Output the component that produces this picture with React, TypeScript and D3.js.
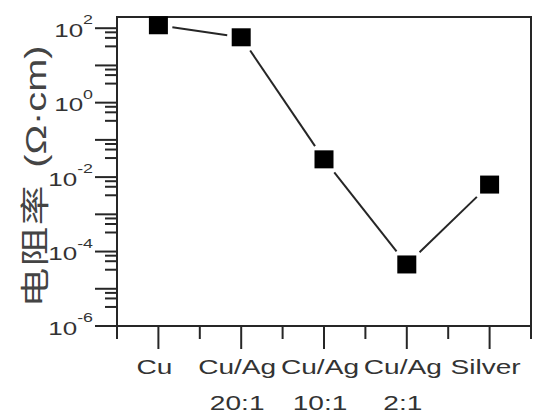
import React from "react";
import * as d3 from "d3";

const categories: string[][] = [["Cu"], ["Cu/Ag", "20:1"], ["Cu/Ag", "10:1"], ["Cu/Ag", "2:1"], ["Silver"]];
const resistivity: number[] = [120, 57, 0.03, 4.5e-5, 0.0063];
const labelExponents: number[] = [-6, -4, -2, 0, 2];
const decadeExponents: number[] = [-6, -5, -4, -3, -2, -1, 0, 1, 2];
const minorMultiples: number[] = [3.25, 5.5, 7.75];
const yTitleMain = "电阻率";
const yTitleUnit = "(Ω·cm)";

const W = 538;
const H = 418;
const left = 117;
const right = 531;
const top = 17;
const bottom = 326;
const SX = 1.37;
const ink = "#262626";
const textInk = "#333";
const font = "'Liberation Sans', Arial, 'Noto Sans CJK SC', sans-serif";

export default function App() {
  const x = d3.scaleLinear().domain([-0.5, categories.length - 0.5]).range([left, right]);
  const y = d3.scaleLog().domain([1e-6, 200]).range([bottom, top]);

  const pts = resistivity.map((v, i) => [x(i), y(v)] as [number, number]);
  const half = 9.5;
  const gap = 4.5;
  const segs = pts.slice(1).map((q, i) => {
    const p = pts[i];
    const dx = q[0] - p[0];
    const dy = q[1] - p[1];
    const len = Math.hypot(dx, dy);
    const ux = dx / len;
    const uy = dy / len;
    const trim = half / Math.max(Math.abs(ux), Math.abs(uy)) + gap;
    return [p[0] + ux * trim, p[1] + uy * trim, q[0] - ux * trim, q[1] - uy * trim];
  });

  const minorY: number[] = [];
  decadeExponents.forEach((e) => {
    minorMultiples.forEach((m) => {
      const v = m * Math.pow(10, e);
      if (v < 200) minorY.push(v);
    });
  });
  const xMajor = categories.map((_, i) => i);
  const xMinor = d3.range(-0.5, categories.length, 1);

  return (
    <svg width={W} height={H} style={{ position: "absolute", left: 0, top: 0, background: "#fff" }}>
      <rect x={0} y={0} width={W} height={H} fill="#fff" />
      {decadeExponents.map((e) => (
        <line key={"ym" + e} x1={left - 22} x2={left} y1={y(Math.pow(10, e))} y2={y(Math.pow(10, e))} stroke={ink} strokeWidth={2} />
      ))}
      {minorY.map((v, i) => (
        <line key={"yn" + i} x1={left - 12} x2={left} y1={y(v)} y2={y(v)} stroke={ink} strokeWidth={2} />
      ))}
      {xMajor.map((v) => (
        <line key={"xm" + v} x1={x(v)} x2={x(v)} y1={bottom} y2={bottom + 23} stroke={ink} strokeWidth={2} />
      ))}
      {xMinor.map((v, i) => (
        <line key={"xn" + i} x1={x(v)} x2={x(v)} y1={bottom} y2={bottom + 13} stroke={ink} strokeWidth={2} />
      ))}
      <rect x={left} y={top} width={right - left} height={bottom - top} fill="none" stroke={ink} strokeWidth={2} />
      {labelExponents.map((e) => (
        <g key={"yl" + e} transform={`translate(${left - 24},${y(Math.pow(10, e)) + 8.5}) scale(${SX},1)`}>
          <text textAnchor="end" fontFamily={font} fontSize={19} fill={textInk}>
            10
            <tspan fontSize={13} dy={-12.5}>{String(e)}</tspan>
          </text>
        </g>
      ))}
      {categories.map((lines, i) =>
        lines.map((ln, j) => (
          <g key={"xl" + i + "_" + j} transform={`translate(${x(i) - 4},${374 + j * 36}) scale(${SX},1)`}>
            <text textAnchor="middle" fontFamily={font} fontSize={20.5} fill={textInk}>
              {ln}
            </text>
          </g>
        ))
      )}
      <g transform={`translate(46,${(top + bottom) / 2 + 5}) rotate(-90) scale(${SX},1)`}>
        <text textAnchor="middle" fontFamily={font} fontSize={29} fill="#444">
          <tspan letterSpacing={1}>{yTitleMain}</tspan>
          <tspan dx={12}>{yTitleUnit}</tspan>
        </text>
      </g>
      {segs.map((s, i) => (
        <line key={"s" + i} x1={s[0]} y1={s[1]} x2={s[2]} y2={s[3]} stroke={ink} strokeWidth={2} />
      ))}
      {pts.map((p, i) => (
        <rect key={"p" + i} x={p[0] - half} y={p[1] - 9} width={half * 2} height={18} fill="#000" />
      ))}
    </svg>
  );
}
